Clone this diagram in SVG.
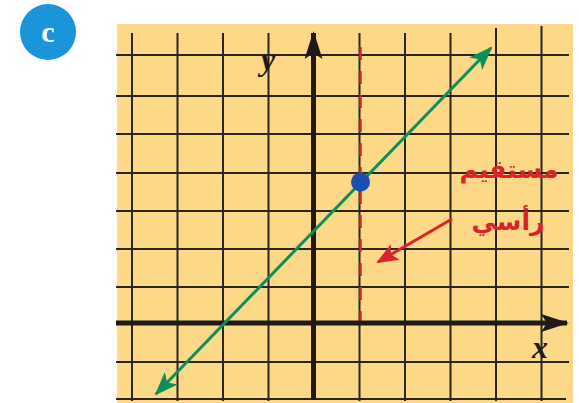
<svg xmlns="http://www.w3.org/2000/svg" width="579" height="403" viewBox="0 0 579 403">
<style>
.grid{stroke:#2b2520;stroke-width:2;fill:none}
.axis{stroke:#1e1a18;stroke-width:5;fill:none}
.lbl{font-family:"Liberation Serif",serif;font-style:italic;font-weight:bold;font-size:32px;fill:#1e1a18}
.ar{font-family:"DejaVu Sans",sans-serif;font-weight:bold;font-size:25px;fill:#d8232a}
</style>
<defs>
<marker id="ga" viewBox="0 0 24 18" refX="22" refY="9" markerWidth="24" markerHeight="18" markerUnits="userSpaceOnUse" orient="auto-start-reverse">
<path d="M0,0 L24,9 L0,18 L6,9 Z" fill="#0b8f5e"/>
</marker>
<marker id="ka" viewBox="0 0 28 18" refX="26" refY="9" markerWidth="28" markerHeight="18" markerUnits="userSpaceOnUse" orient="auto">
<path d="M0,0 L28,9 L0,18 L6,9 Z" fill="#1e1a18"/>
</marker>
<marker id="ra" viewBox="0 0 22 18" refX="20" refY="9" markerWidth="22" markerHeight="18" markerUnits="userSpaceOnUse" orient="auto">
<path d="M0,0 L22,9 L0,18 L5,9 Z" fill="#d8232a"/>
</marker>
</defs>
<g id="badge">
<circle cx="48" cy="32" r="28" fill="#1a95d9"/>
<text x="48" y="42" text-anchor="middle" font-family="Liberation Serif,serif" font-weight="bold" font-size="30" fill="#ffffff">c</text>
</g>
<g id="plane">
<rect x="117" y="24" width="456" height="379" fill="#fdd886"/>
<g class="grid">
<path d="M132,33V401 M177.5,33V401 M223,33V401 M268.5,33V401 M359.5,33V401 M405,33V401 M450.5,33V401 M496,28V401 M541.5,26V401"/>
<path d="M116,55H569 M116,96H569 M116,134H569 M116,173H569 M116,211H569 M116,249H569 M116,287H569 M116,362H569 M116,399H566"/>
</g>
</g>
<g id="connectors">
<line x1="360.5" y1="47" x2="360.5" y2="322" stroke="#d8232a" stroke-width="2.5" stroke-dasharray="13 11"/>
<line x1="116" y1="323" x2="567" y2="323" class="axis" marker-end="url(#ka)"/>
<line x1="313.5" y1="400" x2="313.5" y2="33" class="axis" marker-end="url(#ka)"/>
<line x1="156" y1="394" x2="491" y2="48" stroke="#0b8f5e" stroke-width="3" marker-start="url(#ga)" marker-end="url(#ga)"/>
<line x1="452" y1="219" x2="378" y2="262" stroke="#d8232a" stroke-width="3" marker-end="url(#ra)"/>
</g>
<g id="point">
<circle cx="360.5" cy="182" r="9.5" fill="#1a4fb0"/>
</g>
<g id="labels">
<text x="268" y="70" class="lbl" text-anchor="middle">y</text>
<text x="540" y="358" class="lbl" text-anchor="middle">x</text>
<text x="509" y="178" class="ar" text-anchor="middle" direction="rtl">مستقيم</text>
<text x="508" y="230" class="ar" text-anchor="middle" direction="rtl">رأسي</text>
</g>
</svg>
